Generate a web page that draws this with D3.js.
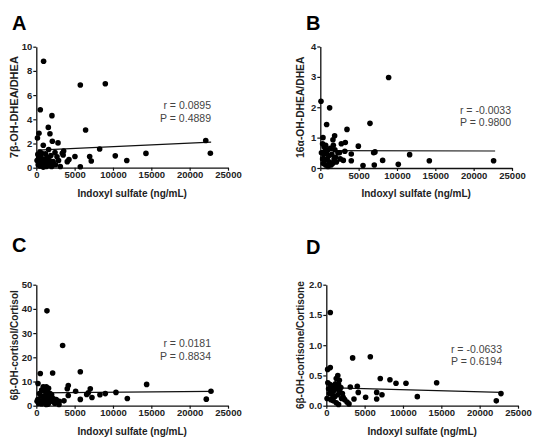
<!DOCTYPE html>
<html><head><meta charset="utf-8">
<script src="https://cdn.jsdelivr.net/npm/d3@7"></script>
<style>
html,body{margin:0;padding:0;background:#fff;}
svg{display:block;font-family:"Liberation Sans",Arial,sans-serif;}
</style></head>
<body>
<svg id="chart" width="545" height="444"></svg>
<script>
// ---- Data ----
const xTicks = [0, 5000, 10000, 15000, 20000, 25000];
const xTitle = "Indoxyl sulfate (ng/mL)";

const pointsA = [[950,8.8],[5740,6.83],[9000,6.94],[520,4.79],[2040,4.3],[6430,3.11],[1565,3.33],[1780,2.81],[350,2.85],[150,2.45],[2090,2.18],[2830,2.05],[22100,2.25],[22700,1.2],[8260,1.54],[14300,1.18],[10300,0.98],[11800,0.6],[6960,0.93],[7170,0.55],[5740,0.08],[5040,0.93],[4260,0.68],[4040,0.5],[3130,0.1],[3390,1.2],[3565,1.38],[910,1.85],[1610,1.5],[480,1.3],[2440,1.25],[200,1.1],[700,1.2],[1200,1.15],[1900,1.0],[2700,0.9],[300,0.8],[600,0.9],[1000,0.7],[1400,0.85],[1700,0.6],[2200,0.5],[2900,0.6],[100,0.6],[400,0.5],[800,0.4],[1100,0.3],[1500,0.35],[1800,0.2],[2000,0.1],[500,0.15],[900,0.05],[1300,0.1],[2500,0.25],[700,0.65],[1600,0.2],[3500,1.05],[1200,0.55],[250,0.25]];
const pointsB = [[8910,2.98],[90,2.2],[1217,1.98],[826,1.43],[6480,1.47],[3480,1.27],[1870,1.06],[1650,0.93],[350,1.0],[3260,0.84],[2740,0.8],[4960,0.72],[6960,0.5],[7130,0.53],[11650,0.44],[4040,0.46],[4040,0.24],[8130,0.25],[14220,0.24],[22600,0.24],[10170,0.12],[7040,0.1],[5570,0.08],[300,0.8],[500,0.7],[700,0.75],[1000,0.6],[1300,0.65],[1900,0.6],[2300,0.5],[150,0.5],[450,0.45],[800,0.5],[1100,0.4],[1500,0.45],[2000,0.35],[2600,0.3],[3000,0.25],[300,0.3],[600,0.25],[900,0.3],[1200,0.2],[1600,0.15],[1800,0.3],[400,0.15],[700,0.1],[1000,0.05],[1400,0.1],[2100,0.2],[3200,0.55],[2500,0.5],[600,0.55],[1700,0.75]];
const pointsC = [[1390,39.2],[3435,24.9],[520,13.3],[2130,13.5],[5740,14.0],[220,9.2],[14390,8.8],[22780,6.0],[22170,2.7],[11870,3.0],[10390,5.5],[9000,5.0],[8300,4.5],[7040,7.0],[7260,3.4],[6570,4.6],[6780,5.3],[5740,2.6],[5130,6.0],[4170,8.3],[4040,7.0],[4170,4.2],[3610,2.0],[2960,0.5],[900,7.8],[1300,7.8],[1600,7.2],[700,6.5],[1100,6.0],[1500,5.5],[1800,5.0],[2000,4.5],[400,5.0],[600,4.0],[900,3.8],[1200,4.2],[1700,3.5],[2200,3.0],[2600,2.5],[3000,1.8],[200,2.5],[500,2.0],[800,1.5],[1100,1.2],[1400,2.2],[1900,1.8],[2400,1.0],[300,1.0],[700,0.8],[1000,2.8],[1300,0.5],[1600,1.0],[2700,1.5],[100,1.8],[1200,3.0],[1500,0.6]];
const pointsD = [[520,1.54],[3435,0.79],[5740,0.81],[520,0.63],[170,0.6],[7040,0.45],[8300,0.43],[9090,0.37],[10390,0.37],[14390,0.38],[22780,0.2],[22170,0.08],[11870,0.15],[7260,0.18],[6570,0.22],[6570,0.11],[5130,0.14],[4170,0.22],[4040,0.32],[3130,0.31],[3610,0.11],[2960,0.03],[1500,0.5],[1300,0.45],[1700,0.42],[200,0.38],[500,0.35],[900,0.33],[1200,0.36],[1600,0.35],[1900,0.3],[300,0.28],[700,0.27],[1000,0.25],[1400,0.28],[1800,0.22],[2100,0.2],[400,0.2],[800,0.18],[1100,0.15],[1500,0.18],[2000,0.12],[2400,0.1],[100,0.12],[600,0.1],[900,0.08],[1300,0.05],[1600,0.02],[2700,0.06],[2200,0.14],[1000,0.3],[1700,0.25],[600,0.22]];

const fitA = [[200,1.45],[22800,2.12]];
const fitB = [[100,0.57],[22800,0.56]];
const fitC = [[100,5.3],[22800,5.9]];
const fitD = [[100,0.30],[22800,0.22]];

const yTicksA = [0,2,4,6,8,10];
const yTicksB = [0,1,2,3,4];
const yTicksC = [0,10,20,30,40,50];
const yTicksD = [0,0.5,1.0,1.5,2.0];

const panelLabels = ["A","B","C","D"];
const yTitles = ["7β-OH-DHEA/DHEA","16α-OH-DHEA/DHEA","6β-OH-cortisol/Cortisol","6β-OH-cortisone/Cortisone"];
const rTexts = ["r = 0.0895","r = -0.0033","r = 0.0181","r = -0.0633"];
const pTexts = ["P = 0.4889","P = 0.9800","P = 0.8834","P = 0.6194"];

// ---- Layout ----
const svg = d3.select("#chart");
const panels = [
  {pts:pointsA, fit:fitA, yt:yTicksA, fmt:d3.format("d"), x0:36.3, x1:228, y0:167.7, y1:46.7,
   lab:[12,30], ytx:14, ytfs:11, stat:[211,109,122]},
  {pts:pointsB, fit:fitB, yt:yTicksB, fmt:d3.format("d"), x0:320.3, x1:512, y0:168, y1:46.5,
   lab:[306,30], ytx:300, ytfs:10.3, stat:[511,114,126]},
  {pts:pointsC, fit:fitC, yt:yTicksC, fmt:d3.format("d"), x0:36.3, x1:228, y0:405.7, y1:284.7,
   lab:[12,252], ytx:14, ytfs:10, stat:[211,347,360]},
  {pts:pointsD, fit:fitD, yt:yTicksD, fmt:d3.format(".1f"), x0:326.3, x1:518, y0:405.7, y1:284.7,
   lab:[306,254], ytx:300, ytfs:10, stat:[502,353,365]}
];

panels.forEach((p, i) => {
  const x = d3.scaleLinear().domain([0, 25000]).range([p.x0, p.x1]);
  const y = d3.scaleLinear().domain([p.yt[0], p.yt[p.yt.length-1]]).range([p.y0, p.y1]);
  const g = svg.append("g");

  const xa = g.append("g").attr("transform", `translate(0,${p.y0})`)
    .call(d3.axisBottom(x).tickValues(xTicks).tickFormat(d3.format("d")).tickSize(3).tickPadding(1).tickSizeOuter(0));
  const ya = g.append("g").attr("transform", `translate(${p.x0},0)`)
    .call(d3.axisLeft(y).tickValues(p.yt).tickFormat(p.fmt).tickSize(3).tickPadding(1).tickSizeOuter(0));
  [xa, ya].forEach(a => {
    a.select(".domain").attr("stroke", "#111").attr("stroke-width", 1.3);
    a.selectAll(".tick line").attr("stroke", "#111").attr("stroke-width", 1.2);
    a.selectAll("text").attr("font-size", 9.5).attr("font-weight", "bold").attr("fill", "#222")
      .attr("font-family", "Liberation Sans, Arial, sans-serif");
  });

  // regression line
  g.append("path").datum(p.fit)
    .attr("d", d3.line().x(d => x(d[0])).y(d => y(d[1])))
    .attr("stroke", "#111").attr("stroke-width", 1.2).attr("fill", "none");

  // points
  g.selectAll("circle").data(p.pts).join("circle")
    .attr("cx", d => x(d[0])).attr("cy", d => y(d[1])).attr("r", 2.8).attr("fill", "#000");

  // labels
  g.append("text").attr("x", p.lab[0]).attr("y", p.lab[1]).text(panelLabels[i])
    .attr("font-size", 20).attr("font-weight", "bold").attr("fill", "#000");
  g.append("text").attr("x", (p.x0 + p.x1) / 2).attr("y", p.y0 + 29).attr("text-anchor", "middle")
    .attr("font-size", 10).attr("font-weight", "bold").attr("fill", "#222").text(xTitle);
  g.append("text").attr("transform", `translate(${p.ytx},${(p.y0 + p.y1) / 2}) rotate(-90)`)
    .attr("text-anchor", "middle").attr("dy", "0.35em")
    .attr("font-size", p.ytfs).attr("font-weight", "bold").attr("fill", "#222").text(yTitles[i]);
  g.append("text").attr("x", p.stat[0]).attr("y", p.stat[1]).attr("text-anchor", "end")
    .attr("font-size", 10.5).attr("fill", "#444").text(rTexts[i]);
  g.append("text").attr("x", p.stat[0]).attr("y", p.stat[2]).attr("text-anchor", "end")
    .attr("font-size", 10.5).attr("fill", "#444").text(pTexts[i]);
});
</script>
</body></html>
